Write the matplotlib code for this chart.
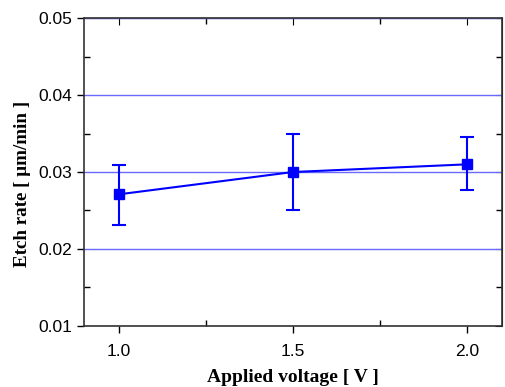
import matplotlib.pyplot as plt
from matplotlib.ticker import MultipleLocator

voltage = [1.0, 1.5, 2.0]
etch_rate = [0.0271, 0.0300, 0.0310]
err_low = [0.0040, 0.0050, 0.0034]
err_high = [0.0038, 0.0050, 0.0035]

fig = plt.figure(figsize=(5.06, 3.87), dpi=100)
ax = fig.add_axes([0.166, 0.158, 0.826, 0.795])

ax.errorbar(voltage, etch_rate, yerr=[err_low, err_high], color='#0000ff',
            marker='s', markersize=7, linewidth=1.5, elinewidth=1.5,
            capsize=5, capthick=1.5, zorder=3)

ax.set_xlim(0.9, 2.1)
ax.set_ylim(0.01, 0.05)
ax.xaxis.set_minor_locator(MultipleLocator(0.25))
ax.yaxis.set_minor_locator(MultipleLocator(0.005))
ax.set_xticks([1.0, 1.5, 2.0])
ax.set_xticklabels(['1.0', '1.5', '2.0'])
ax.set_yticks([0.01, 0.02, 0.03, 0.04, 0.05])
ax.set_yticklabels(['0.01', '0.02', '0.03', '0.04', '0.05'])

ax.yaxis.grid(True, which='major', color='#6a6aff', linewidth=1.0)
ax.set_axisbelow(True)

ax.tick_params(which='major', direction='out', length=5, width=1, labelsize=12.5,
               top=False, right=False)
ax.tick_params(axis='x', which='major', pad=8)
ax.tick_params(which='minor', direction='in', length=4, width=1,
               top=True, right=True)
ax2 = ax.secondary_xaxis('top')
ax2.set_xticks([1.0, 1.5, 2.0])
ax2.tick_params(direction='in', length=5, labeltop=False)
ay2 = ax.secondary_yaxis('right')
ay2.set_yticks([0.01, 0.02, 0.03, 0.04, 0.05])
ay2.tick_params(direction='in', length=5, labelright=False)

for t in ax.get_xticklabels() + ax.get_yticklabels():
    t.set_fontfamily('Liberation Sans')
for s in ax.spines.values():
    s.set_linewidth(1.2)
    s.set_color('#333333')

ax.set_xlabel('Applied voltage [ V ]', fontfamily='Liberation Serif',
              fontweight='bold', fontsize=14, va='center')
ax.xaxis.set_label_coords(0.5, -0.167)
ax.set_ylabel('Etch rate [ \u03bcm/min ]', fontfamily='Liberation Serif',
              fontweight='bold', fontsize=13.7, va='center')
ax.yaxis.set_label_coords(-0.148, 0.46)

fig.savefig('out.png', dpi=100)
